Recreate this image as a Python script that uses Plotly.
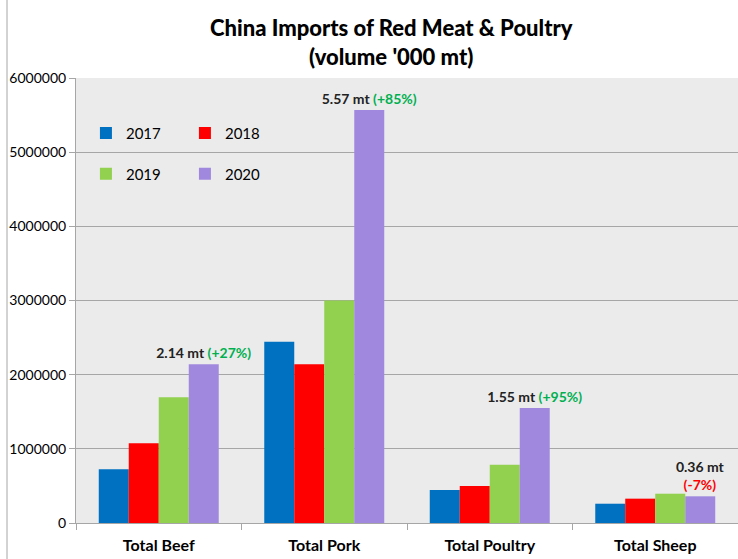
import plotly.graph_objects as go

categories = ["Total Beef", "Total Pork", "Total Poultry", "Total Sheep"]
years = ["2017", "2018", "2019", "2020"]
v2017 = [724000, 2445000, 445000, 260000]
v2018 = [1075000, 2140000, 499000, 328000]
v2019 = [1695000, 3000000, 786000, 395000]
v2020 = [2140000, 5570000, 1550000, 360000]
labels2020 = [
    "2.14 mt <span style='color:#00b050'>(+27%)</span>",
    "5.57 mt <span style='color:#00b050'>(+85%)</span>",
    "1.55 mt <span style='color:#00b050'>(+95%)</span>",
    "0.36 mt<br><span style='color:#ff0000'>(-7%)</span>",
]
colors = ["#0070c0", "#ff0000", "#92d050", "#a088df"]
series = [v2017, v2018, v2019, v2020]
legends = ["legend", "legend", "legend2", "legend2"]

FONT = "Lato"

fig = go.Figure()
for y, vals, col, lg in zip(years, series, colors, legends):
    kw = {}
    if y == "2020":
        kw = dict(text=labels2020, textposition="outside", cliponaxis=False,
                  constraintext="none",
                  textfont=dict(family=FONT, size=14, color="#222"),
                  texttemplate="<b>%{text}</b>")
    fig.add_trace(go.Bar(name=y, x=categories, y=vals, marker_color=col,
                         marker_line_width=0, legend=lg, **kw))

fig.update_layout(
    width=738, height=559,
    margin=dict(l=76, r=0, t=78, b=36),
    paper_bgcolor="white",
    plot_bgcolor="#ebebeb",
    barmode="group",
    bargap=0.275,
    bargroupgap=0,
    font=dict(family=FONT, color="#000"),
    legend=dict(orientation="h", x=0.015, y=0.876, xanchor="left", yanchor="middle",
                bgcolor="rgba(0,0,0,0)", font=dict(family=FONT, size=15, color="#000"),
                entrywidth=54, traceorder="normal"),
    legend2=dict(orientation="h", x=0.015, y=0.784, xanchor="left", yanchor="middle",
                 bgcolor="rgba(0,0,0,0)", font=dict(family=FONT, size=15, color="#000"),
                 entrywidth=54, traceorder="normal"),
    showlegend=True,
)
fig.add_annotation(
    text="China Imports of Red Meat &amp; Poultry<br>(volume '000 mt)",
    xref="paper", yref="paper", x=(391 - 76) / 662, y=(523 - 42) / 445,
    xanchor="center", yanchor="middle", showarrow=False,
    font=dict(family=FONT, size=22, color="#000", weight=900), align="center",
)
fig.update_yaxes(
    range=[0, 6000000], dtick=1000000, tickformat="d",
    showgrid=True, gridcolor="#a6a6a6", gridwidth=1,
    showline=True, linecolor="#a6a6a6", linewidth=1,
    ticks="outside", ticklen=6, tickcolor="#a6a6a6",
    tickfont=dict(family=FONT, size=14, color="#000"),
    zeroline=False,
)
fig.update_xaxes(
    showline=True, linecolor="#a6a6a6", linewidth=1,
    ticks="outside", tickson="boundaries", ticklen=6, tickcolor="#a6a6a6",
    tickfont=dict(family=FONT, size=16, color="#000"),
    tickprefix="<b>", ticksuffix="</b>", ticklabelstandoff=8,
)
fig.add_shape(type="line", xref="paper", yref="paper",
              x0=-69 / 662, x1=-69 / 662, y0=-36 / 445, y1=1 + 78 / 445,
              line=dict(color="#a6a6a6", width=1))

fig.write_html("out.html")
